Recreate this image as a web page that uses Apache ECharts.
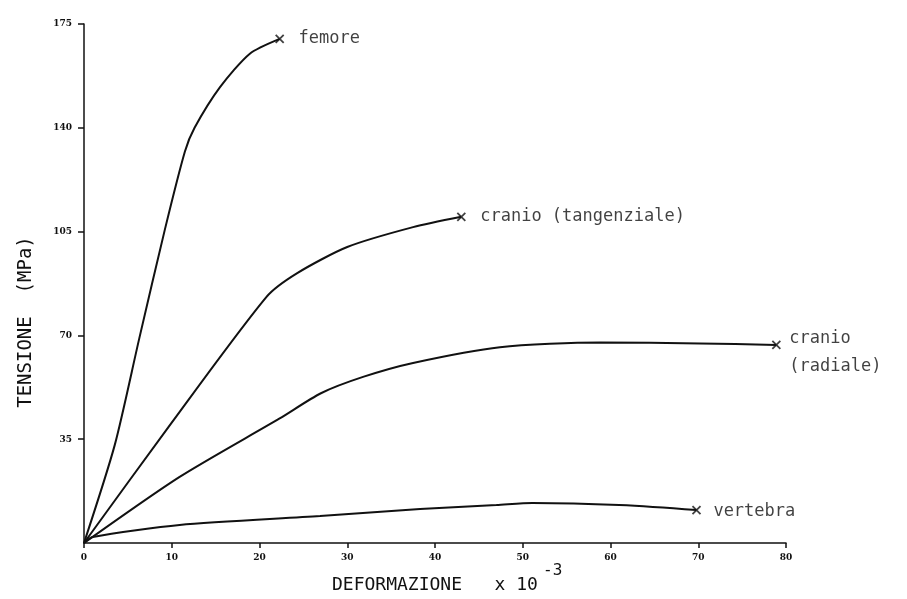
<!DOCTYPE html>
<html><head><meta charset="utf-8">
<script src="https://cdn.jsdelivr.net/npm/echarts@6/dist/echarts.min.js"></script>
<style>html,body{margin:0;padding:0;background:#fff}#c{width:907px;height:599px}</style>
</head><body><div id="c"></div>
<script>
// Deformazione (x 10^-3) / Tensione (MPa)
const femoreX = [0, 3.5, 6.3, 9.2, 11.5, 12.6, 15.5, 18.9, 22.3];
const femoreY = [0, 33, 69, 105.5, 132, 140, 153.7, 165, 170];
const cranioTX = [0, 9.6, 20.8, 24.3, 30, 37.5, 43];
const cranioTY = [0, 39, 83, 91, 99.8, 106.5, 110];
const cranioRX = [0, 10.9, 22.3, 27, 31.8, 37.5, 47.4, 58.8, 70.2, 78.9];
const cranioRY = [0, 22.3, 42, 50.5, 56, 60.7, 66, 67.6, 67.3, 66.8];
const vertebraX = [0, 1.0, 10.9, 26.9, 38.3, 47, 51.1, 61, 69.8];
const vertebraY = [0, 2.0, 6.1, 9.1, 11.5, 12.8, 13.5, 12.8, 11.1];
const curveNames = ['femore', 'cranio (tangenziale)', 'cranio\n(radiale)', 'vertebra'];
const xTicks = [0, 10, 20, 30, 40, 50, 60, 70, 80];
const yTicks = [0, 35, 70, 105, 140, 175];

const ink = '#111';
const mono = '"DejaVu Sans Mono", "Liberation Mono", monospace';
const curves = [[femoreX, femoreY], [cranioTX, cranioTY], [cranioRX, cranioRY], [vertebraX, vertebraY]];
const labelOffsets = [[0, 0], [0, 0], [0, 8], [0, 1]];
const labelDist = [14, 14, 8, 12];

const series = curves.map((c, i) => ({
  type: 'line', name: curveNames[i], smooth: 0.25, symbol: 'none',
  lineStyle: { color: ink, width: 2 },
  data: c[0].map((x, k) => [x, c[1][k]])
}));
series.push({
  type: 'scatter',
  symbol: 'path://M0,0L10,10M10,0L0,10',
  symbolSize: 8,
  itemStyle: { color: 'transparent', borderColor: ink, borderWidth: 1.8 },
  data: curves.map((c, i) => ({
    value: [c[0][c[0].length - 1], c[1][c[1].length - 1]],
    label: {
      show: true, position: 'right', distance: labelDist[i], offset: labelOffsets[i],
      formatter: curveNames[i], fontFamily: mono, fontSize: 17, color: ink, lineHeight: 28
    }
  }))
});

const chart = echarts.init(document.getElementById('c'));
chart.setOption({
  animation: false,
  backgroundColor: '#fff',
  grid: { left: 84, right: 121, top: 24, bottom: 56, containLabel: false },
  xAxis: {
    type: 'value', min: xTicks[0], max: xTicks[xTicks.length - 1], interval: 10,
    axisLine: { lineStyle: { color: ink, width: 1.5 } },
    axisTick: { show: true, length: 5, lineStyle: { color: ink, width: 1.5 } },
    axisLabel: { color: ink, fontSize: 9, fontWeight: 'bold', fontFamily: 'DejaVu Serif', margin: 10 },
    splitLine: { show: false }
  },
  yAxis: {
    type: 'value', min: yTicks[0], max: yTicks[yTicks.length - 1], interval: 35,
    axisLine: { show: true, lineStyle: { color: ink, width: 1.5 } },
    axisTick: { show: true, length: 6, lineStyle: { color: ink, width: 1.5 } },
    axisLabel: { color: ink, fontSize: 9, fontWeight: 'bold', fontFamily: 'DejaVu Serif', margin: 12, showMinLabel: false },
    splitLine: { show: false }
  },
  graphic: [
    { type: 'text', x: 26, y: 322, rotation: Math.PI / 2, style: {
      text: 'TENSIONE  (MPa)', fill: ink, font: '19px ' + mono, textAlign: 'center', textVerticalAlign: 'middle' } },
    { type: 'text', x: 332, y: 585, style: {
      text: 'DEFORMAZIONE   x 10', fill: ink, font: '18px ' + mono, textAlign: 'left', textVerticalAlign: 'middle' } },
    { type: 'text', x: 543, y: 571, style: {
      text: '-3', fill: ink, font: '16px ' + mono, textAlign: 'left', textVerticalAlign: 'middle' } }
  ],
  series: series
});
</script></body></html>
